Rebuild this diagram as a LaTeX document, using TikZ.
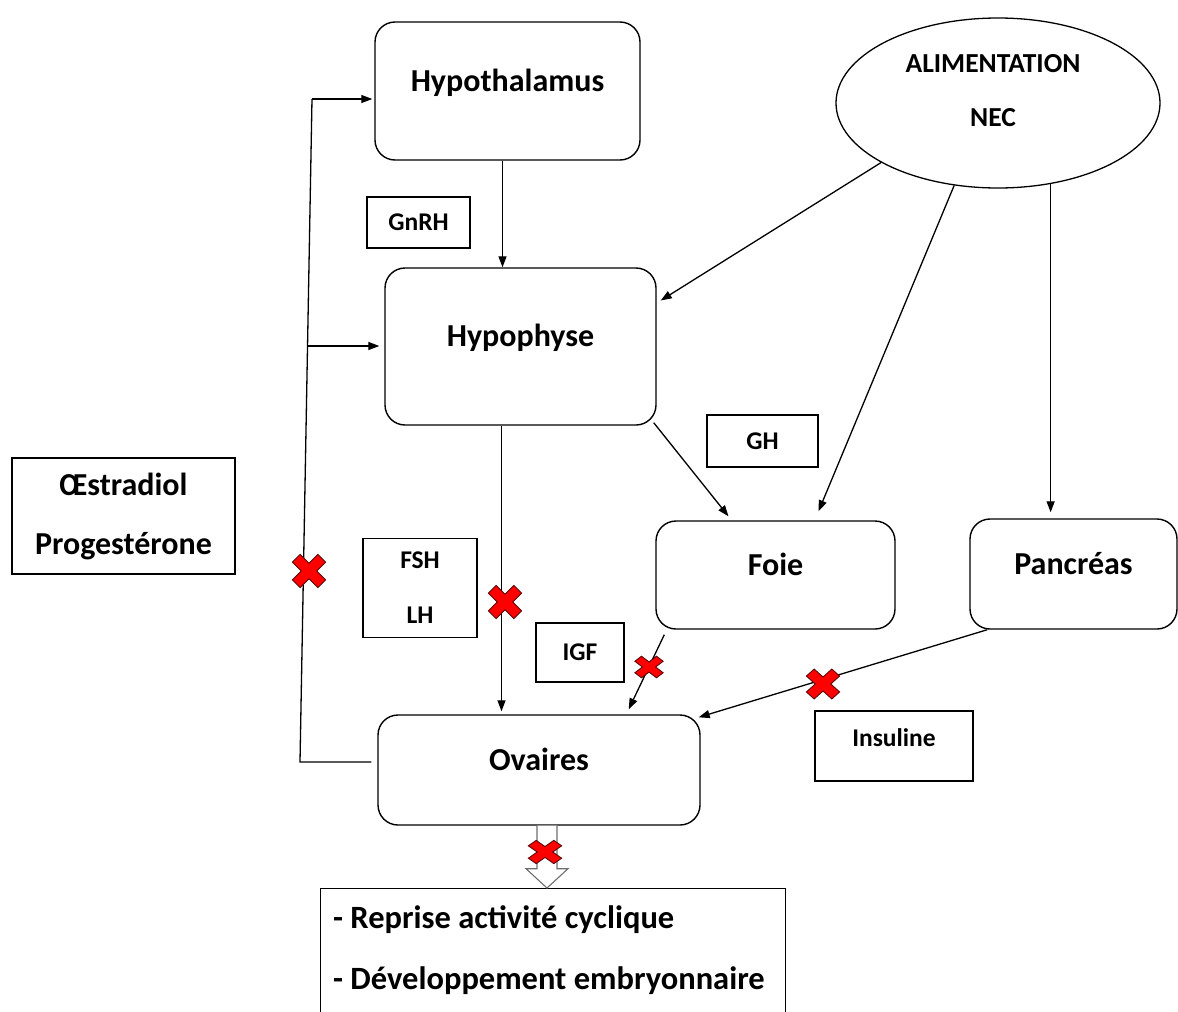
\documentclass[tikz,border=0pt]{standalone}
\usepackage{fontspec}
\setmainfont{Carlito}
\usetikzlibrary{arrows.meta,shapes.geometric}
\definecolor{CrossRed}{HTML}{FF0000}
\definecolor{CrossEdge}{HTML}{5A0A0A}
\definecolor{ArrowGrey}{HTML}{6E6E6E}
\tikzset{
    % Organ box (rounded)
    organnode/.style={
        draw=black,
        line width=1.4pt,
        rounded corners=20pt,
        inner sep=0pt,
        text height=21pt,
        text depth=21pt,
        font=\bfseries\fontsize{32}{38}\selectfont
    },
    % Hormone label box
    hormonebox/.style={
        draw=black,
        line width=1.2pt,
        inner sep=0pt,
        align=center,
        font=\bfseries\fontsize{25.5}{55}\selectfont
    },
    % Big label box
    bigbox/.style={
        hormonebox,
        font=\bfseries\fontsize{32}{59}\selectfont
    },
    % Source ellipse
    sourcenode/.style={
        draw=black,
        ellipse,
        line width=1.3pt,
        inner sep=0pt
    },
    % Plain text
    plaintext/.style={
        inner sep=0pt,
        align=center,
        font=\bfseries\fontsize{27.5}{54}\selectfont
    },
    resulttext/.style={
        inner sep=0pt,
        anchor=base west,
        font=\bfseries\fontsize{32.5}{38}\selectfont
    },
    % Arrow style
    myarrow/.style={
        -{Triangle[length=11pt,width=8pt]},
        line width=1.3pt,
        draw=black
    },
    % Plain line
    myline/.style={
        line width=1.3pt,
        draw=black
    },
    % Hollow arrow
    hollowarrow/.style={
        draw=ArrowGrey,
        fill=white,
        line width=1.1pt
    },
    % Red cross
    redcross/.pic={
        \filldraw[fill=CrossRed, draw=CrossEdge, line width=0.9pt, rotate=45]
            (-5.5,18) -- (5.5,18) -- (5.5,5.5) -- (18,5.5) -- (18,-5.5) -- (5.5,-5.5)
            -- (5.5,-18) -- (-5.5,-18) -- (-5.5,-5.5) -- (-18,-5.5) -- (-18,5.5)
            -- (-5.5,5.5) -- cycle;
    }
}
\begin{document}
\begin{tikzpicture}[x=1pt, y=-1pt]
        \useasboundingbox (0,0) rectangle (1178,1012);
        \clip (0,0) rectangle (1178,1012);

        % Organs
        \node[organnode, minimum width=265, minimum height=138] (hypothal) at (507.5,91) {Hypothalamus};
        \node[organnode, minimum width=271, minimum height=157] (hypophyse) at (520.5,346.5) {Hypophyse};
        \node[organnode, minimum width=239, minimum height=108] (foie) at (775.5,575) {Foie};
        \node[organnode, minimum width=207, minimum height=110] (pancreas) at (1073.5,574) {Pancréas};
        \node[organnode, minimum width=322, minimum height=110] (ovaires) at (539,770) {Ovaires};

        % Food source
        \node[sourcenode, minimum width=324, minimum height=170] (alim) at (998,103) {};
        \node[plaintext] (alimtext) at (993,91) {ALIMENTATION\\NEC};

        % Hormones
        \node[hormonebox, minimum width=103, minimum height=51] (gnrh) at (418.5,222.5) {GnRH};
        \node[hormonebox, minimum width=111, minimum height=52] (gh) at (762.5,441) {GH};
        \node[hormonebox, minimum width=114, minimum height=99] (fshlh) at (420,588) {FSH\\LH};
        \node[hormonebox, minimum width=88, minimum height=59] (igf) at (580,652.5) {IGF};
        \node[hormonebox, minimum width=158, minimum height=70, text height=18pt, text depth=18pt] (insuline) at (894,746) {Insuline};
        \node[bigbox, minimum width=223, minimum height=116] (oestro) at (123.5,516) {Œstradiol\\Progestérone};

        % Results
        \node[draw=black, line width=1.4pt, anchor=north west, minimum width=465, minimum height=160] (results) at (320,888) {};
        \node[resulttext] (reprise) at (333,928) {- Reprise activité cyclique};
        \node[resulttext] (devel) at (333,989) {- Développement embryonnaire};

        % Arrows
        \draw[myarrow] ([xshift=-5pt]hypothal.south) -- ([xshift=-5pt]hypothal.south |- hypophyse.north);
        \draw[myarrow] (alim.207) -- ([xshift=4pt,yshift=46pt]hypophyse.east);
        \draw[myarrow] (alim.242) -- ([xshift=43pt,yshift=9pt]foie.north);
        \draw[myarrow, shorten >=6pt] (alim.303) -- (alim.303 |- pancreas.north);
        \draw[myarrow] ([shift={(-3pt,3pt)}]hypophyse.south east) -- ([xshift=-47pt,yshift=4pt]foie.north);
        \draw[myarrow, shorten >=3pt] ([xshift=-19pt]hypophyse.south) -- ([xshift=-19pt]hypophyse.south |- ovaires.north);
        \draw[myarrow] ([xshift=9pt,yshift=-5pt]foie.south west) -- ([xshift=-72pt,yshift=5pt]ovaires.north east);
        \draw[myarrow] ([xshift=18pt]pancreas.south west) -- ([xshift=-2pt,yshift=-3pt]ovaires.north east);

        % Feedback
        \coordinate (fbbot) at (300,762);
        \coordinate (fbtop) at (312,99);
        \coordinate (fbmid) at (307.5,346);
        \draw[myline] ([xshift=-6pt,yshift=8pt]ovaires.west) -- (fbbot) -- (fbtop);
        \draw[myarrow] (fbtop) -- ([xshift=-2pt]hypothal.west |- fbtop);
        \draw[myarrow] (fbmid) -- ([xshift=-5pt]hypophyse.west |- fbmid);

        % Hollow arrow
        \coordinate (harrow) at ([xshift=8pt]ovaires.south);
        \draw[hollowarrow] ([xshift=-10pt]harrow) -- ++(0,43) -- ++(-11,0)
            -- (harrow |- results.north)
            -- ([xshift=21pt,yshift=-43pt]harrow) -- ([xshift=10pt,yshift=-43pt]harrow)
            -- ([xshift=10pt]harrow);

        % Crosses
        \pic at (309,571) {redcross};
        \pic at (505,602) {redcross};
        \pic[xscale=0.85, yscale=0.65] at (649,667) {redcross};
        \pic[yscale=0.9] at (823,684) {redcross};
        \pic[yscale=0.7] at (545,852) {redcross};
    \end{tikzpicture}
\end{document}
